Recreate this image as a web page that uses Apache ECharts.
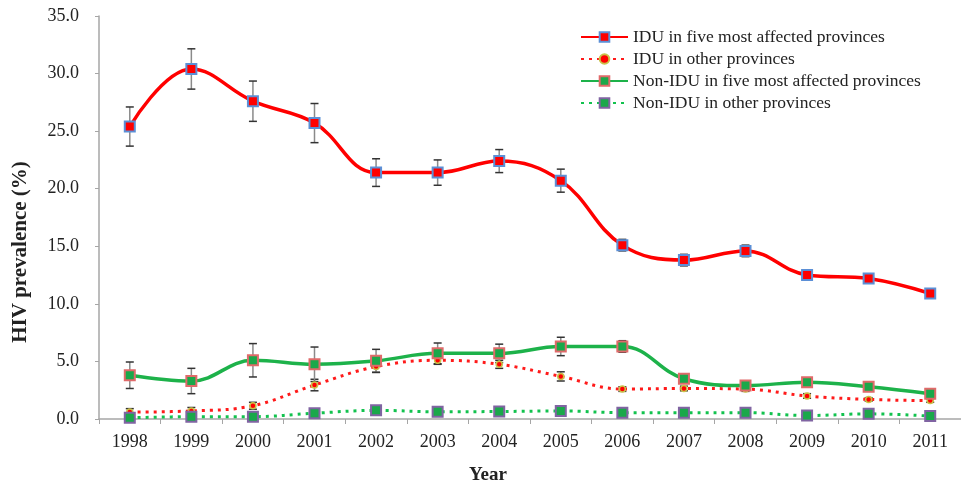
<!DOCTYPE html>
<html>
<head>
<meta charset="utf-8">
<script src="https://cdn.jsdelivr.net/npm/echarts@6/dist/echarts.min.js"></script>
<style>
  html, body { margin: 0; padding: 0; background: #fff; }
  #chart { width: 961px; height: 487px; }
</style>
</head>
<body>
<div id="chart"></div>
<script>
var years = ['1998', '1999', '2000', '2001', '2002', '2003', '2004', '2005', '2006', '2007', '2008', '2009', '2010', '2011'];

// IDU in five most affected provinces
var idu5 = [25.4, 30.4, 27.6, 25.7, 21.4, 21.4, 22.4, 20.7, 15.1, 13.8, 14.6, 12.5, 12.2, 10.9];
var idu5Err = [1.7, 1.75, 1.75, 1.7, 1.2, 1.1, 1.0, 1.0, 0.5, 0.5, 0.5, 0.3, 0.3, 0.3];
// IDU in other provinces
var iduOther = [0.6, 0.7, 1.15, 2.95, 4.55, 5.1, 4.75, 3.7, 2.6, 2.65, 2.6, 2.0, 1.7, 1.6];
var iduOtherErr = [0.3, 0.3, 0.3, 0.5, 0.5, 0.35, 0.35, 0.4, 0.2, 0.2, 0.2, 0.2, 0.15, 0.15];
// Non-IDU in five most affected provinces
var nonIdu5 = [3.8, 3.3, 5.1, 4.75, 5.05, 5.7, 5.7, 6.3, 6.3, 3.5, 2.9, 3.2, 2.8, 2.2];
var nonIdu5Err = [1.15, 1.1, 1.45, 1.5, 1.0, 0.9, 0.8, 0.8, 0.5, 0.3, 0.3, 0.2, 0.2, 0.2];
// Non-IDU in other provinces
var nonIduOther = [0.1, 0.2, 0.2, 0.5, 0.75, 0.63, 0.65, 0.7, 0.55, 0.55, 0.55, 0.3, 0.45, 0.25];
var nonIduOtherErr = [0.05, 0.05, 0.05, 0.1, 0.1, 0.1, 0.1, 0.1, 0.1, 0.1, 0.1, 0.05, 0.05, 0.05];

var names = [
    'IDU in five most affected provinces',
    'IDU in other provinces',
    'Non-IDU in five most affected provinces',
    'Non-IDU in other provinces'
];

var font = '"Liberation Serif", "Times New Roman", serif';

// 误差线：竖线 + 上下短横
function errorSeries(vals, errs) {
    var data = [];
    for (var i = 0; i < vals.length; i++) {
        data.push([i, vals[i] - errs[i], vals[i] + errs[i]]);
    }
    return {
        type: 'custom',
        z: 1,
        silent: true,
        encode: {x: 0, y: [1, 2]},
        data: data,
        renderItem: function (params, api) {
            var x = api.value(0);
            var lo = api.coord([x, api.value(1)]);
            var hi = api.coord([x, api.value(2)]);
            var w = 4;
            return {
                type: 'group',
                children: [
                    {type: 'line', shape: {x1: lo[0], y1: lo[1], x2: hi[0], y2: hi[1]},
                        style: {stroke: '#8a8a8a', lineWidth: 1.5}},
                    {type: 'line', shape: {x1: hi[0] - w, y1: hi[1], x2: hi[0] + w, y2: hi[1]},
                        style: {stroke: '#333', lineWidth: 1.5}},
                    {type: 'line', shape: {x1: lo[0] - w, y1: lo[1], x2: lo[0] + w, y2: lo[1]},
                        style: {stroke: '#333', lineWidth: 1.5}}
                ]
            };
        }
    };
}

var myChart = echarts.init(document.getElementById('chart'));

var option = {
    animation: false,
    textStyle: {fontFamily: font},
    legend: {
        data: names,
        orient: 'vertical',
        left: 575,
        top: 23,
        itemWidth: 47,
        itemHeight: 12,
        itemGap: 4,
        textStyle: {fontFamily: font, fontSize: 17.5, color: '#222'}
    },
    // 坐标轴名称单独放置，位置与原图一致
    graphic: [
        {
            type: 'text', x: 21, y: 252, rotation: Math.PI / 2,
            style: {text: 'HIV prevalence (%)', font: 'bold 21px ' + font, fill: '#222',
                align: 'center', verticalAlign: 'middle'}
        },
        {
            type: 'text', x: 488, y: 475,
            style: {text: 'Year', font: 'bold 19px ' + font, fill: '#222',
                align: 'center', verticalAlign: 'middle'}
        }
    ],
    grid: {left: 99, width: 866, top: 16, bottom: 68},
    xAxis: {
        type: 'category',
        data: years,
        axisLine: {lineStyle: {color: '#a6a6a6', width: 1.5}},
        axisTick: {show: true, length: 5, lineStyle: {color: '#a6a6a6'}},
        axisLabel: {fontFamily: font, fontSize: 18, color: '#222', margin: 14}
    },
    yAxis: {
        type: 'value',
        min: 0,
        max: 35,
        interval: 5,
        axisLine: {show: true, lineStyle: {color: '#a6a6a6', width: 1.5}},
        axisTick: {show: true, length: 4, lineStyle: {color: '#a6a6a6'}},
        splitLine: {show: false},
        axisLabel: {
            fontFamily: font, fontSize: 18, color: '#222', margin: 20,
            formatter: function (v) { return v.toFixed(1); }
        }
    },
    series: [
        errorSeries(idu5, idu5Err),
        errorSeries(iduOther, iduOtherErr),
        errorSeries(nonIdu5, nonIdu5Err),
        errorSeries(nonIduOther, nonIduOtherErr),
        {
            name: names[0], type: 'line', data: idu5, smooth: 0.4, z: 3,
            symbol: 'rect', symbolSize: 10,
            lineStyle: {color: '#ff0000', width: 3.5},
            itemStyle: {color: '#ff0000', borderColor: '#5b8fd6', borderWidth: 2}
        },
        {
            name: names[1], type: 'line', data: iduOther, smooth: 0.4, z: 3,
            symbol: 'circle', symbolSize: 6,
            lineStyle: {color: '#ff1a1a', width: 3, type: [3, 5]},
            itemStyle: {color: '#ff0000', borderColor: '#c9c24a', borderWidth: 1.5}
        },
        {
            name: names[2], type: 'line', data: nonIdu5, smooth: 0.4, z: 3,
            symbol: 'rect', symbolSize: 10,
            lineStyle: {color: '#1db24a', width: 3.5},
            itemStyle: {color: '#1aa84a', borderColor: '#e06a6a', borderWidth: 2}
        },
        {
            name: names[3], type: 'line', data: nonIduOther, smooth: 0.4, z: 3,
            symbol: 'rect', symbolSize: 10,
            lineStyle: {color: '#12c24e', width: 3, type: [3, 5]},
            itemStyle: {color: '#1aa84a', borderColor: '#8064a2', borderWidth: 2}
        }
    ]
};

myChart.setOption(option);
</script>
</body>
</html>
